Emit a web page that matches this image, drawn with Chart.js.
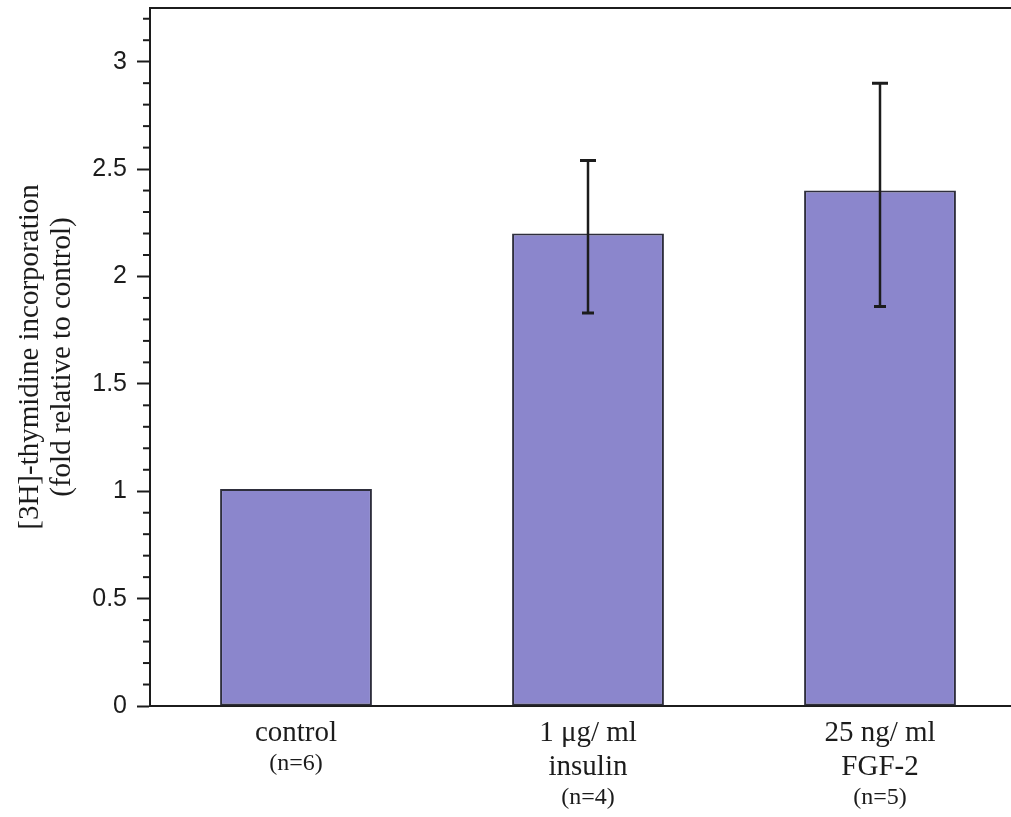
<!DOCTYPE html>
<html>
<head>
<meta charset="utf-8">
<script src="https://cdn.jsdelivr.net/npm/chart.js@4.4.0/dist/chart.umd.min.js"></script>
<style>
  html, body { margin: 0; padding: 0; background: #fff; overflow: hidden; }
  canvas { display: block; }
</style>
</head>
<body>
<canvas id="thymidineChart" width="1027" height="817" style="width:1027px;height:817px"></canvas>
<script>
const categories = [['control'], ['1 \u03bcg/ ml', 'insulin'], ['25 ng/ ml', 'FGF-2']];
const sampleSizes = ['(n=6)', '(n=4)', '(n=5)'];
const foldValues = [1.01, 2.2, 2.4];
const errorLow = [null, 1.83, 1.86];
const errorHigh = [null, 2.54, 2.9];
const yTickLabels = [0, 0.5, 1, 1.5, 2, 2.5, 3];

const ink = '#1c1c1c';

// minor ticks, error bars, top frame line and the (n=..) lines
const extras = {
  id: 'extras',
  afterDatasetsDraw(chart) {
    const ctx = chart.ctx;
    const x = chart.scales.x;
    const y = chart.scales.y;
    const area = chart.chartArea;
    ctx.save();
    ctx.strokeStyle = ink;

    // error bars
    ctx.lineWidth = 2.5;
    foldValues.forEach(function(v, i) {
      if (errorLow[i] == null) return;
      const px = x.getPixelForValue(i);
      const top = y.getPixelForValue(errorHigh[i]);
      const bot = y.getPixelForValue(errorLow[i]);
      ctx.beginPath();
      ctx.moveTo(px, top);
      ctx.lineTo(px, bot);
      ctx.stroke();
      ctx.lineWidth = 3;
      ctx.beginPath();
      ctx.moveTo(px - 8, top);
      ctx.lineTo(px + 8, top);
      ctx.moveTo(px - 6, bot);
      ctx.lineTo(px + 6, bot);
      ctx.stroke();
      ctx.lineWidth = 2.5;
    });

    // minor ticks every 0.1
    ctx.lineWidth = 2;
    for (let k = 1; k <= 32; k++) {
      if (k % 5 === 0) continue;
      const py = y.getPixelForValue(k / 10);
      ctx.beginPath();
      ctx.moveTo(area.left - 7, py);
      ctx.lineTo(area.left, py);
      ctx.stroke();
    }

    // top frame line
    ctx.beginPath();
    ctx.moveTo(area.left - 1, area.top);
    ctx.lineTo(area.right, area.top);
    ctx.stroke();

    // sample sizes under the category labels
    ctx.fillStyle = ink;
    ctx.font = '24px "Liberation Serif", "Times New Roman", serif';
    ctx.textAlign = 'center';
    ctx.textBaseline = 'middle';
    sampleSizes.forEach(function(s, i) {
      const px = x.getPixelForValue(i);
      const py = 733 + categories[i].length * 34 - 3;
      ctx.fillText(s, px, py);
    });
    ctx.restore();
  }
};

const ctx = document.getElementById('thymidineChart').getContext('2d');
new Chart(ctx, {
  type: 'bar',
  data: {
    labels: categories,
    datasets: [{
      data: foldValues,
      backgroundColor: 'rgb(139, 134, 204)',
      borderColor: '#2e2e3c',
      borderWidth: 2,
      borderSkipped: false,
      barPercentage: 0.52,
      categoryPercentage: 1,
    }]
  },
  options: {
    responsive: false,
    animation: false,
    layout: { padding: { top: 8, right: 1, left: 0, bottom: 0 } },
    plugins: {
      legend: { display: false },
      tooltip: { enabled: false },
    },
    scales: {
      x: {
        grid: { display: false, drawTicks: false },
        border: { display: true, color: ink, width: 2 },
        ticks: {
          color: ink,
          padding: 10,
          maxRotation: 0,
          autoSkip: false,
          font: { family: '"Liberation Serif", "Times New Roman", serif', size: 29, lineHeight: '34px' },
        },
        afterFit: function(scale) {
          scale.height = 111;
          scale.paddingLeft = 0;
          scale.paddingRight = 0;
        },
      },
      y: {
        min: 0,
        max: 3.25,
        grid: {
          drawOnChartArea: false,
          drawTicks: true,
          tickLength: 13,
          tickColor: ink,
          tickWidth: 2,
        },
        border: { display: true, color: ink, width: 2 },
        ticks: {
          stepSize: 0.5,
          includeBounds: false,
          padding: 10,
          color: ink,
          font: { family: '"Liberation Sans", Arial, sans-serif', size: 25 },
          callback: function(v) {
            return yTickLabels.indexOf(v) >= 0 ? String(v) : '';
          },
        },
        title: {
          display: true,
          text: ['[3H]-thymidine incorporation', '(fold relative to control)'],
          color: ink,
          padding: { top: 14, bottom: 0 },
          font: { family: '"Liberation Serif", "Times New Roman", serif', size: 29, lineHeight: '32px' },
        },
        afterFit: function(scale) {
          scale.width = 150;
          scale.paddingTop = 0;
          scale.paddingBottom = 0;
        },
      },
    },
  },
  plugins: [extras],
});
</script>
</body>
</html>
